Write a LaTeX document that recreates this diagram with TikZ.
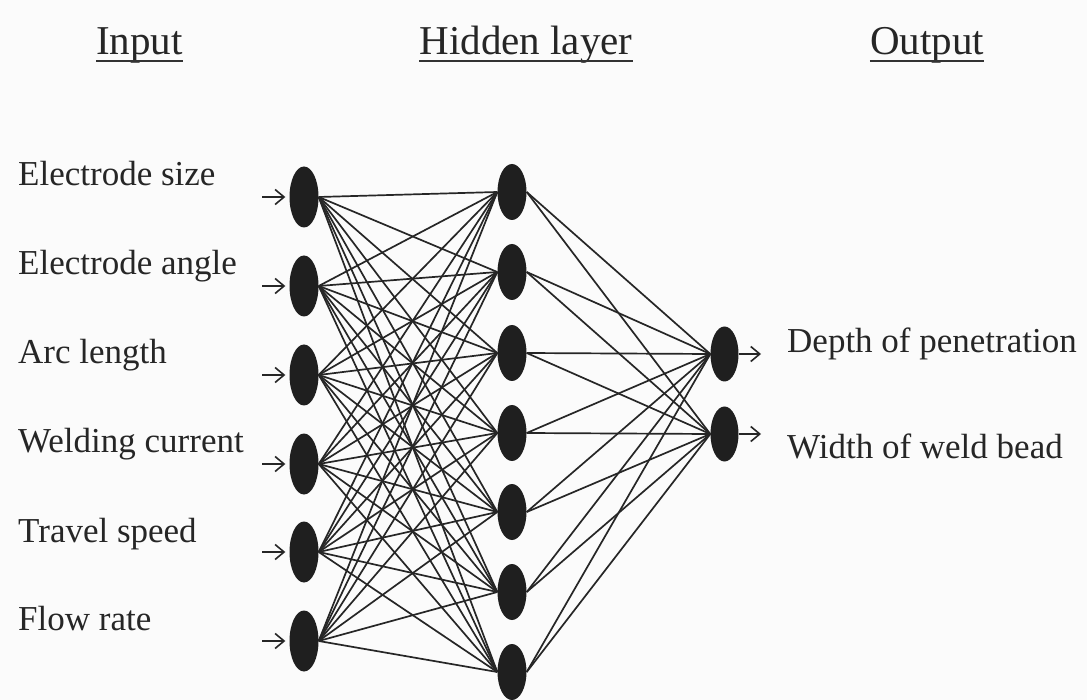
\documentclass[tikz,border=0pt]{standalone}
\usepackage{fontspec}
\setmainfont{Liberation Serif}
\usetikzlibrary{arrows.meta,calc,shapes.geometric}
\begin{document}
\begin{tikzpicture}[x=1pt,y=-1pt,
  neuron/.style={ellipse,fill=black!88,draw=none,inner sep=0pt},
  inneuron/.style={neuron,minimum width=29pt,minimum height=61pt},
  hidneuron/.style={neuron,minimum width=29pt,minimum height=56pt},
  outneuron/.style={neuron,minimum width=28pt,minimum height=55pt},
  link/.style={draw=black!85,line width=1.7pt},
  feed/.style={draw=black!85,line width=1.6pt,-{Straight Barb[length=9pt,width=15pt]}},
  lbl/.style={anchor=base west,inner sep=0pt,text=black!85,font=\fontsize{35}{40}\selectfont},
  head/.style={anchor=base,inner sep=0pt,text=black!85,font=\fontsize{41}{46}\selectfont},
  uline/.style={line width=2.2pt,draw=black!80}
]
% page
\fill[gray!3] (0,0) rectangle (1087,700);
\useasboundingbox (0,0) rectangle (1087,700);

% column headings
\node[head] (tin)  at (139.5,55) {Input};
\node[head] (thid) at (526,55)   {Hidden layer};
\node[head] (tout) at (927,55)   {Output};
\foreach \t in {tin,thid,tout}
  \draw[uline] ($(\t.base west)+(0,6)$) -- ($(\t.base east)+(0,6)$);

% input layer
\foreach \i/\y in {1/197,2/286,3/375,4/464,5/552,6/641}{
  \node[inneuron] (i\i) at (304,\y) {};
  \coordinate (a\i) at (262,\y);
}
% hidden layer
\foreach \j/\y in {1/192,2/272,3/353,4/433,5/512,6/592,7/672}
  \node[hidneuron] (h\j) at (512,\y) {};
% output layer
\foreach \k/\y in {1/354,2/434}{
  \node[outneuron] (o\k) at (724.5,\y) {};
  \coordinate (b\k) at (761,\y);
}

% input labels
\node[lbl] (l1) at (18,186) {Electrode size};
\node[lbl] (l2) at (18,275) {Electrode angle};
\node[lbl] (l3) at (18,364) {Arc length};
\node[lbl] (l4) at (18,453) {Welding current};
\node[lbl] (l5) at (18,542) {Travel speed};
\node[lbl] (l6) at (18,630) {Flow rate};
% output labels
\node[lbl] (r1) at (787,353) {Depth of penetration};
\node[lbl] (r2) at (787,458) {Width of weld bead};

% weights
\foreach \i in {1,...,6}
  \foreach \j in {1,...,7}
    \draw[link] (i\i.east) -- (h\j.west);
\foreach \j in {1,...,7}
  \foreach \k in {1,2}
    \draw[link] (h\j.east) -- (o\k.west);

% incoming and outgoing signals
\foreach \i in {1,...,6}
  \draw[feed,shorten >=4pt] (a\i) -- (i\i);
\foreach \k in {1,2}
  \draw[feed] (o\k) -- (b\k);
\end{tikzpicture}
\end{document}
